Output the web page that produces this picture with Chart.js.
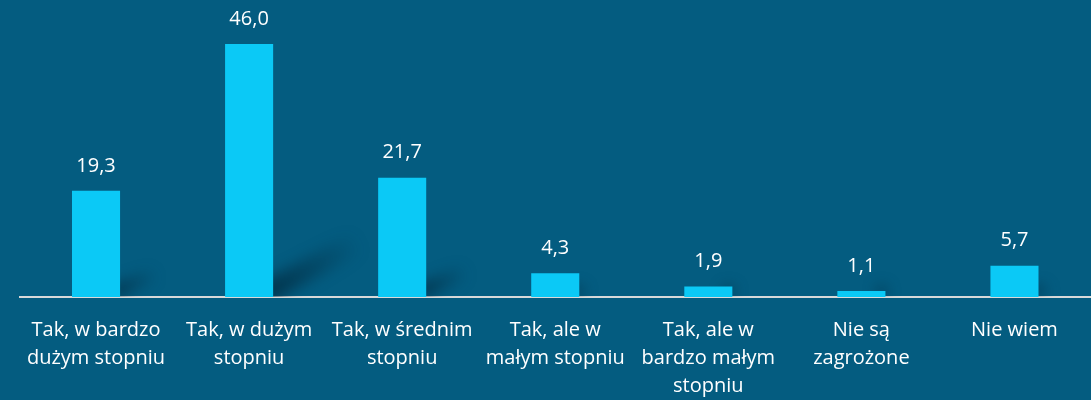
<!DOCTYPE html>
<html>
<head>
<meta charset="utf-8">
<script src="https://cdn.jsdelivr.net/npm/chart.js@4/dist/chart.umd.min.js"></script>
<style>
html,body{margin:0;padding:0;background:#045c80;}
#wrap{width:1091px;height:400px;position:relative;}
</style>
</head>
<body>
<div id="wrap"><canvas id="c" width="1091" height="400"></canvas></div>
<script>
const categories = [
  ["Tak, w bardzo", "dużym stopniu"],
  ["Tak, w dużym", "stopniu"],
  ["Tak, w średnim", "stopniu"],
  ["Tak, ale w", "małym stopniu"],
  ["Tak, ale w", "bardzo małym", "stopniu"],
  ["Nie są", "zagrożone"],
  ["Nie wiem"]
];
const values = [19.3, 46.0, 21.7, 4.3, 1.9, 1.1, 5.7];
const valueLabels = ["19,3", "46,0", "21,7", "4,3", "1,9", "1,1", "5,7"];

const FONT = "'Open Sans', 'Noto Sans', sans-serif";

const shadowPlugin = {
  id: 'shadowPlugin',
  beforeDatasetsDraw(chart) {
    const ctx = chart.ctx;
    const meta = chart.getDatasetMeta(0);
    const area = chart.chartArea;
    ctx.save();
    ctx.beginPath();
    ctx.rect(area.left, area.top, area.right - area.left, area.bottom - area.top);
    ctx.clip();
    ctx.filter = 'blur(7px)';
    meta.data.forEach(bar => {
      const h = bar.base - bar.y;
      const right = bar.x + bar.width / 2;
      const x0 = right - 4, y0 = bar.base - 6;
      const x1 = right + 0.34 * h, y1 = bar.base - 0.22 * h;
      const g = ctx.createLinearGradient(x0, y0, x1, y1);
      g.addColorStop(0, 'rgba(2,40,60,0.75)');
      g.addColorStop(1, 'rgba(2,40,60,0.0)');
      ctx.strokeStyle = g;
      ctx.lineWidth = Math.max(10, Math.min(22, h * 0.12));
      ctx.lineCap = 'round';
      ctx.beginPath();
      ctx.moveTo(x0, y0);
      ctx.lineTo(x1, y1);
      ctx.stroke();
    });
    ctx.restore();
  }
};

const labelPlugin = {
  id: 'labelPlugin',
  afterDatasetsDraw(chart) {
    const ctx = chart.ctx;
    const meta = chart.getDatasetMeta(0);
    ctx.save();
    ctx.fillStyle = '#ffffff';
    ctx.font = '20px ' + FONT;
    ctx.textAlign = 'center';
    ctx.textBaseline = 'middle';
    meta.data.forEach((bar, i) => {
      ctx.fillText(valueLabels[i], bar.x, bar.y - 25);
    });
    ctx.restore();
  }
};

new Chart(document.getElementById('c'), {
  type: 'bar',
  data: {
    labels: categories,
    datasets: [{
      data: values,
      backgroundColor: '#0bc9f6',
      borderWidth: 0,
      categoryPercentage: 1,
      barPercentage: 0.314
    }]
  },
  options: {
    responsive: false,
    animation: false,
    devicePixelRatio: 1,
    layout: { padding: { left: 19.5, right: 0, top: 0, bottom: 0 } },
    plugins: { legend: { display: false }, tooltip: { enabled: false } },
    scales: {
      x: {
        grid: { display: false, drawTicks: false },
        border: { display: true, color: '#d9d9d9', width: 2 },
        ticks: {
          color: '#ffffff',
          font: { family: FONT, size: 20, lineHeight: 1.4 },
          padding: 19,
          maxRotation: 0,
          autoSkip: false
        },
        afterFit(scale) { scale.height = 103; }
      },
      y: {
        display: false,
        min: 0,
        max: 54
      }
    }
  },
  plugins: [shadowPlugin, labelPlugin]
});
</script>
</body>
</html>
